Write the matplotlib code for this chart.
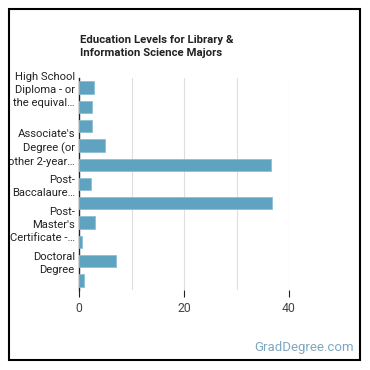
import matplotlib
matplotlib.use("Agg")
import matplotlib.pyplot as plt
from matplotlib.patches import Rectangle

categories = [
    "High School Diploma - or the equivalent",
    "Post-Secondary Certificate",
    "Some College Courses",
    "Associate's Degree (or other 2-year degree)",
    "Bachelor's Degree",
    "Post-Baccalaureate Certificate",
    "Master's Degree",
    "Post-Master's Certificate",
    "First Professional Degree",
    "Doctoral Degree",
    "Post-Doctoral Training",
]
values = [2.9, 2.5, 2.5, 4.9, 36.6, 2.3, 36.8, 3.05, 0.6, 7.1, 0.95]
tick_labels = [
    "High School\nDiploma - or\nthe equival…", "", "",
    "Associate's\nDegree (or\nother 2-year…", "",
    "Post-\nBaccalaure…", "",
    "Post-\nMaster's\nCertificate -…", "",
    "Doctoral\nDegree", "",
]
x_ticks = [0, 20, 40]
grid_ticks = [10, 20, 30, 40]
title = "Education Levels for Library &\nInformation Science Majors"

plt.rcParams['font.family'] = ['Roboto', 'DejaVu Sans']

W = H = 370
fig = plt.figure(figsize=(W / 100, H / 100), dpi=100)
ax = fig.add_axes([79 / W, 1 - 290 / H, (289 - 79) / W, (290 - 78) / H])

y = list(range(len(categories)))
ax.barh(y, values, height=0.64, color="#5fa3c1", edgecolor="#8cc0d6", linewidth=0.6, zorder=3)
ax.set_ylim(len(categories) - 0.5, -0.5)
ax.set_xlim(0, 40)
ax.set_yticks(y)
ax.set_yticklabels(tick_labels, fontsize=8.1, color="#222222", linespacing=1.4)
ax.set_xticks(x_ticks)
ax.set_xticklabels([str(t) for t in x_ticks], fontsize=8.8, color="#444444")
for g in grid_ticks:
    ax.axvline(g, color="#dedede", linewidth=0.8, zorder=1)
ax.tick_params(axis="y", length=0, pad=3)
ax.tick_params(axis="x", length=5, width=0.8, color="#222222", pad=4)
for s in ["top", "right", "bottom"]:
    ax.spines[s].set_visible(False)
ax.spines["left"].set_color("#222222")
ax.spines["left"].set_linewidth(1.0)
ax.spines["left"].set_bounds(len(categories) - 0.5, -0.5)

fig.text(80 / W, 1 - 35 / H, title, fontsize=8.2, fontweight="bold", color="#222222",
         ha="left", va="top", linespacing=1.4)
fig.text(354 / W, 1 - 348 / H, "GradDegree.com", fontsize=9.5, color="#7ea7c0",
         ha="right", va="center")

fig.patches.append(Rectangle((8.5 / W, 1 - 359.5 / H), (360 - 8.5) / W, (359.5 - 8.5) / H,
                             transform=fig.transFigure, fill=False, edgecolor="black",
                             linewidth=1.5))

fig.savefig("out.png", dpi=100)
